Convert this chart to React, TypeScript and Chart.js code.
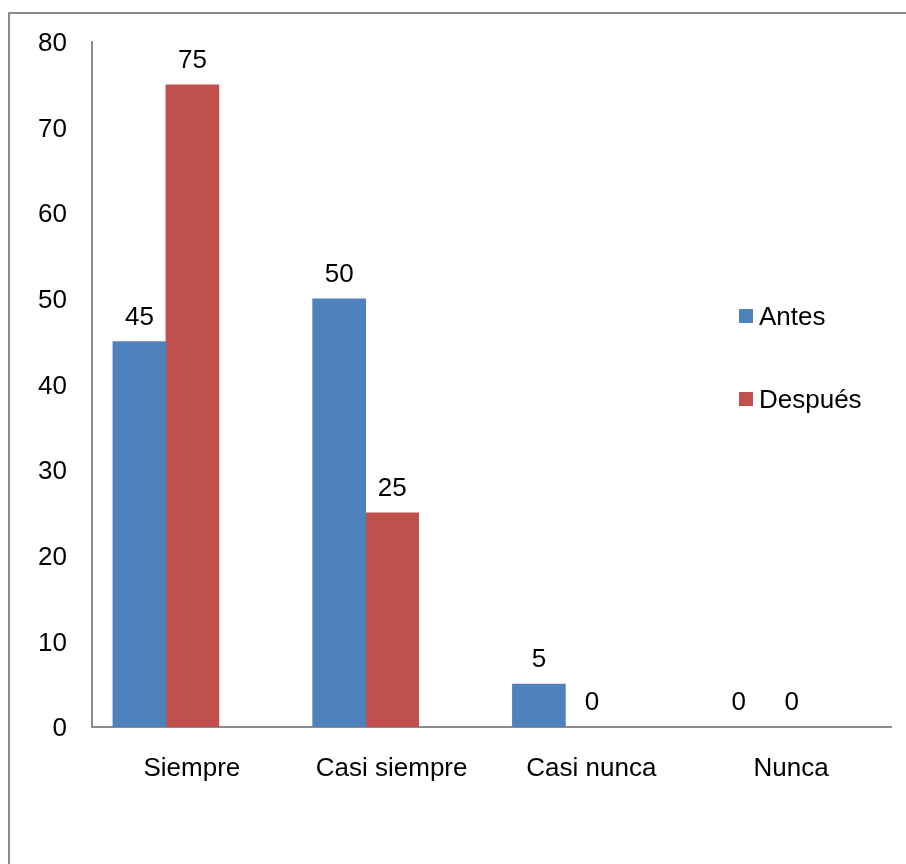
import React, { useEffect, useRef } from "react";
import { Chart, registerables } from "chart.js";

Chart.register(...registerables);

// ---- data ----
const categories = ["Siempre", "Casi siempre", "Casi nunca", "Nunca"];
const seriesNames = ["Antes", "Después"];
const antes = [45, 50, 5, 0];
const despues = [75, 25, 0, 0];
const Y_MIN = 0;
const Y_MAX = 80;
const Y_STEP = 10;

// ---- style ----
const COLORS = ["#4F81BD", "#C0504D"];
const FONT = "'Liberation Sans', Arial, Helvetica, sans-serif";
const FONT_SIZE = 26;
const AXIS_COLOR = "#8c8c8c";
const BAR_SHIFT = 0.13; // bars sit slightly left of category centres, like the original

const valueLabels = {
  id: "valueLabels",
  afterDatasetsDraw(chart: any) {
    const ctx = chart.ctx;
    ctx.save();
    ctx.font = `${FONT_SIZE}px ${FONT}`;
    ctx.fillStyle = "#000";
    ctx.textAlign = "center";
    ctx.textBaseline = "alphabetic";
    chart.data.datasets.forEach((ds: any, di: number) => {
      const meta = chart.getDatasetMeta(di);
      meta.data.forEach((bar: any, i: number) => {
        const v = ds.data[i].y;
        ctx.fillText(String(v), bar.x, bar.y - 17);
      });
    });
    ctx.restore();
  },
};

function ChartCanvas() {
  const ref = useRef<HTMLCanvasElement>(null);
  useEffect(() => {
    if (!ref.current) return;
    const series = [antes, despues];
    const chart = new Chart(ref.current, {
      type: "bar",
      data: {
        datasets: series.map((vals, si) => ({
          label: seriesNames[si],
          data: vals.map((y, i) => ({ x: i, y })),
          backgroundColor: (c: any) =>
            c.raw && c.raw.y === 0 ? "rgba(0,0,0,0)" : COLORS[si],
          borderWidth: 0,
          barThickness: 53,
          xAxisID: "xb",
          yAxisID: "y",
        })),
      },
      options: {
        responsive: false,
        animation: false,
        layout: { padding: { left: 0, right: 15, top: 42, bottom: 0 } },
        plugins: { legend: { display: false }, tooltip: { enabled: false } },
        scales: {
          x: {
            type: "category",
            labels: categories,
            position: "bottom",
            bounds: "ticks",
            offset: true,
            grid: { display: false, drawTicks: false },
            border: { display: true, color: AXIS_COLOR, width: 2 },
            ticks: {
              font: { family: FONT, size: FONT_SIZE },
              color: "#000",
              padding: 26,
              maxRotation: 0,
              autoSkip: false,
            },
            afterFit: (s: any) => {
              s.height = 137;
            },
          },
          xb: {
            type: "linear",
            display: false,
            offset: false,
            min: -0.5 + BAR_SHIFT,
            max: categories.length - 0.5 + BAR_SHIFT,
            grid: { offset: false },
          },
          y: {
            type: "linear",
            position: "left",
            min: Y_MIN,
            max: Y_MAX,
            grid: { display: false, drawTicks: false },
            border: { display: true, color: AXIS_COLOR, width: 2 },
            ticks: {
              stepSize: Y_STEP,
              font: { family: FONT, size: FONT_SIZE },
              color: "#000",
              padding: 25,
              labelOffset: 2,
            },
            afterFit: (s: any) => {
              s.width = 92;
            },
          },
        },
      } as any,
      plugins: [valueLabels],
    });
    return () => chart.destroy();
  }, []);
  return (
    <canvas
      ref={ref}
      width={906}
      height={864}
      style={{ position: "absolute", left: 0, top: 0, width: 906, height: 864 }}
    />
  );
}

export default function App() {
  const legendTops = [303, 386];
  return (
    <div
      style={{
        position: "fixed",
        left: 0,
        top: 0,
        width: 906,
        height: 864,
        overflow: "hidden",
        background: "#fff",
        fontFamily: FONT,
      }}
    >
      <div
        style={{
          position: "absolute",
          left: 8,
          top: 12,
          width: 1200,
          height: 1200,
          border: `2px solid ${AXIS_COLOR}`,
        }}
      />
      <ChartCanvas />
      {seriesNames.map((name, i) => (
        <div
          key={name}
          style={{
            position: "absolute",
            left: 739,
            top: legendTops[i],
            height: FONT_SIZE,
            display: "flex",
            alignItems: "center",
            fontSize: FONT_SIZE,
            lineHeight: `${FONT_SIZE}px`,
            color: "#000",
            whiteSpace: "nowrap",
          }}
        >
          <span
            style={{
              display: "inline-block",
              width: 14,
              height: 14,
              background: COLORS[i],
              marginRight: 6,
            }}
          />
          <span>{name}</span>
        </div>
      ))}
    </div>
  );
}
